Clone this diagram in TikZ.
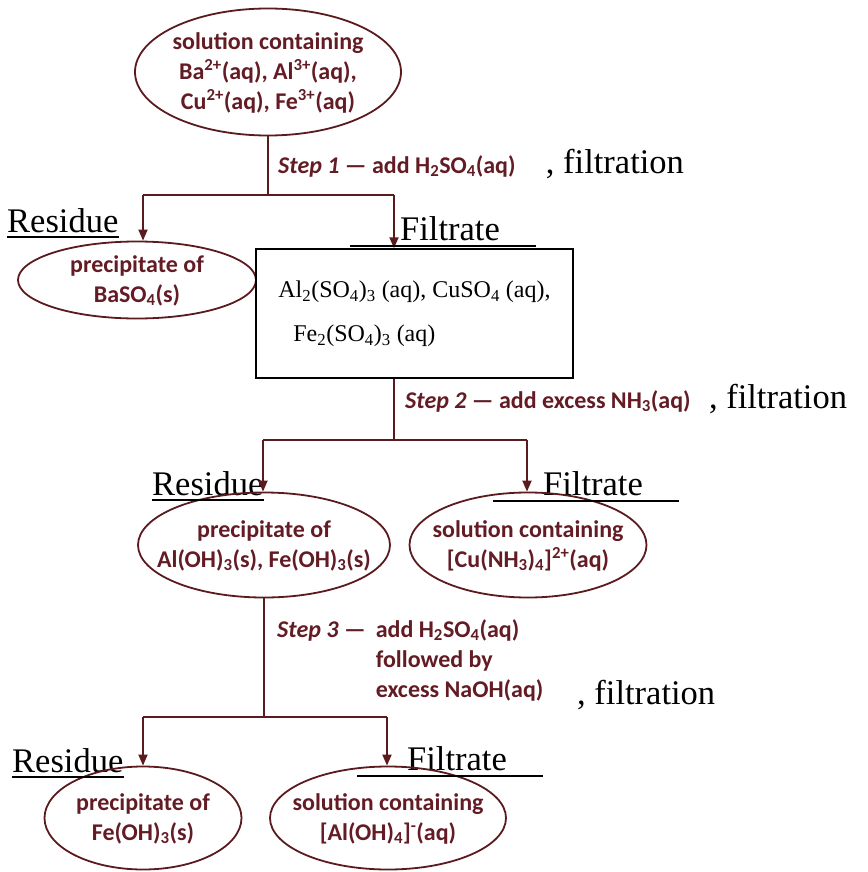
\documentclass[tikz,border=0pt]{standalone}
\usepackage{fontspec}
\setmainfont{Liberation Serif}
\newfontfamily\chemfont{Carlito}
\usetikzlibrary{arrows.meta,calc,positioning,shapes.geometric}
\definecolor{maroon}{HTML}{5A1A1E}
\definecolor{inkred}{HTML}{631B24}
% text inside an oval that does not resize it
\newcommand\ovaltext[1]{\raisebox{-0.62em}{\smash{\makebox[0pt]{\begin{tabular}{@{}c@{}}#1\end{tabular}}}}}
\tikzset{
  sample/.style={draw=maroon,line width=1.8pt,ellipse,inner sep=0pt,
    text=inkred,font=\chemfont\bfseries\fontsize{24}{30}\selectfont},
  steplabel/.style={anchor=base west,align=left,inner sep=0pt,text=inkred,
    font=\chemfont\bfseries\fontsize{24}{30}\selectfont},
  tag/.style={anchor=base west,inner sep=0pt,font=\fontsize{34.5}{38}\selectfont},
  note/.style={anchor=base west,inner sep=0pt,font=\fontsize{34.5}{38}\selectfont},
  flow/.style={draw=maroon,line width=1.8pt},
  rule/.style={draw,line width=1.3pt}
}

\begin{document}
\begin{tikzpicture}[x=1pt,y=-1pt,>={Triangle[length=11pt,width=9pt]}]
  \useasboundingbox (0,0) rectangle (867,872);

  % starting mixture
  \node[sample,minimum width=266pt,minimum height=127pt] (mix) at (268,72)
    {\ovaltext{solution containing\\Ba\textsuperscript{2+}(aq), Al\textsuperscript{3+}(aq),\\Cu\textsuperscript{2+}(aq), Fe\textsuperscript{3+}(aq)}};

  % step 1
  \coordinate (j1) at (268,195);
  \coordinate (j1l) at (143,195);
  \coordinate (j1r) at (394,195);
  \node[steplabel] (step1) at (278,173) {\textit{Step 1} — add H\textsubscript{2}SO\textsubscript{4}(aq)};
  \node[note] (filt1) at ([xshift=30pt]step1.base east) {, filtration};

  \node[tag] (res1) at (7,232) {Residue};
  \node[tag] (fil1) at (400,240) {Filtrate};
  \node[sample,minimum width=238pt,minimum height=77pt] (baso4) at (137,280)
    {\ovaltext{precipitate of\\BaSO\textsubscript{4}(s)}};
  \node[draw,line width=1.5pt,minimum width=317pt,minimum height=129pt,align=left,
    font=\fontsize{24}{44}\selectfont] (sol1) at (414.5,313.5)
    {Al\textsubscript{2}(SO\textsubscript{4})\textsubscript{3} (aq), CuSO\textsubscript{4} (aq),\\
     \hspace*{15pt}Fe\textsubscript{2}(SO\textsubscript{4})\textsubscript{3} (aq)};

  \draw[flow] (mix.south) -- (j1);
  \draw[flow] (j1l) -- (j1r);
  \draw[flow,->] (j1l) -- (j1l |- baso4.north);
  \draw[flow,->] (j1r) -- (j1r |- sol1.north);

  % step 2
  \coordinate (j2) at (394,440);
  \coordinate (j2l) at (263,440);
  \coordinate (j2r) at (527,440);
  \node[steplabel] (step2) at (405,408) {\textit{Step 2} — add excess NH\textsubscript{3}(aq)};
  \node[note] (filt2) at ([xshift=18pt]step2.base east) {, filtration};

  \node[tag] (res2) at (152,495) {Residue};
  \node[tag] (fil2) at (543,495) {Filtrate};
  \node[sample,minimum width=252pt,minimum height=105pt] (hydro) at (264,545)
    {\ovaltext{precipitate of\\Al(OH)\textsubscript{3}(s), Fe(OH)\textsubscript{3}(s)}};
  \node[sample,minimum width=237pt,minimum height=105pt] (cuamm) at (528,545)
    {\ovaltext{solution containing\\{}[Cu(NH\textsubscript{3})\textsubscript{4}]\textsuperscript{2+}(aq)}};

  \draw[flow] (j2 |- sol1.south) -- (j2);
  \draw[flow] (j2l) -- (j2r);
  \draw[flow,->] (j2l) -- (j2l |- hydro.north);
  \draw[flow,->] (j2r) -- (j2r |- cuamm.north);

  % step 3
  \coordinate (j3) at (264,717);
  \coordinate (j3l) at (143,717);
  \coordinate (j3r) at (387,717);
  \node[steplabel] (step3) at (277,637)
    {\begin{tabular}[t]{@{}l@{\hspace{10pt}}l@{}}
       \textit{Step 3} — & add H\textsubscript{2}SO\textsubscript{4}(aq)\\
        & followed by\\
        & excess NaOH(aq)
     \end{tabular}};
  \node[note] (filt3) at (577,704) {, filtration};

  \node[tag] (res3) at (12,772) {Residue};
  \node[tag] (fil3) at (407,770) {Filtrate};
  \node[sample,minimum width=197pt,minimum height=103pt] (feoh) at (143,818)
    {\ovaltext{precipitate of\\Fe(OH)\textsubscript{3}(s)}};
  \node[sample,minimum width=236pt,minimum height=103pt] (aloh) at (388,818)
    {\ovaltext{solution containing\\{}[Al(OH)\textsubscript{4}]\textsuperscript{-}(aq)}};

  \draw[flow] (hydro.south) -- (j3);
  \draw[flow] (j3l) -- (j3r);
  \draw[flow,->] (j3l) -- (j3l |- feoh.north);
  \draw[flow,->] (j3r) -- (j3r |- aloh.north);

  % underlines
  \foreach \r in {res1,res2,res3}
    \draw[rule] ([yshift=-5pt]\r.base west) -- ([yshift=-5pt]\r.base east);
  \foreach \f in {fil1,fil2,fil3}
    \draw[rule] ([xshift=-50pt,yshift=-6pt]\f.base west) -- ([xshift=36pt,yshift=-6pt]\f.base east);
\end{tikzpicture}
\end{document}
